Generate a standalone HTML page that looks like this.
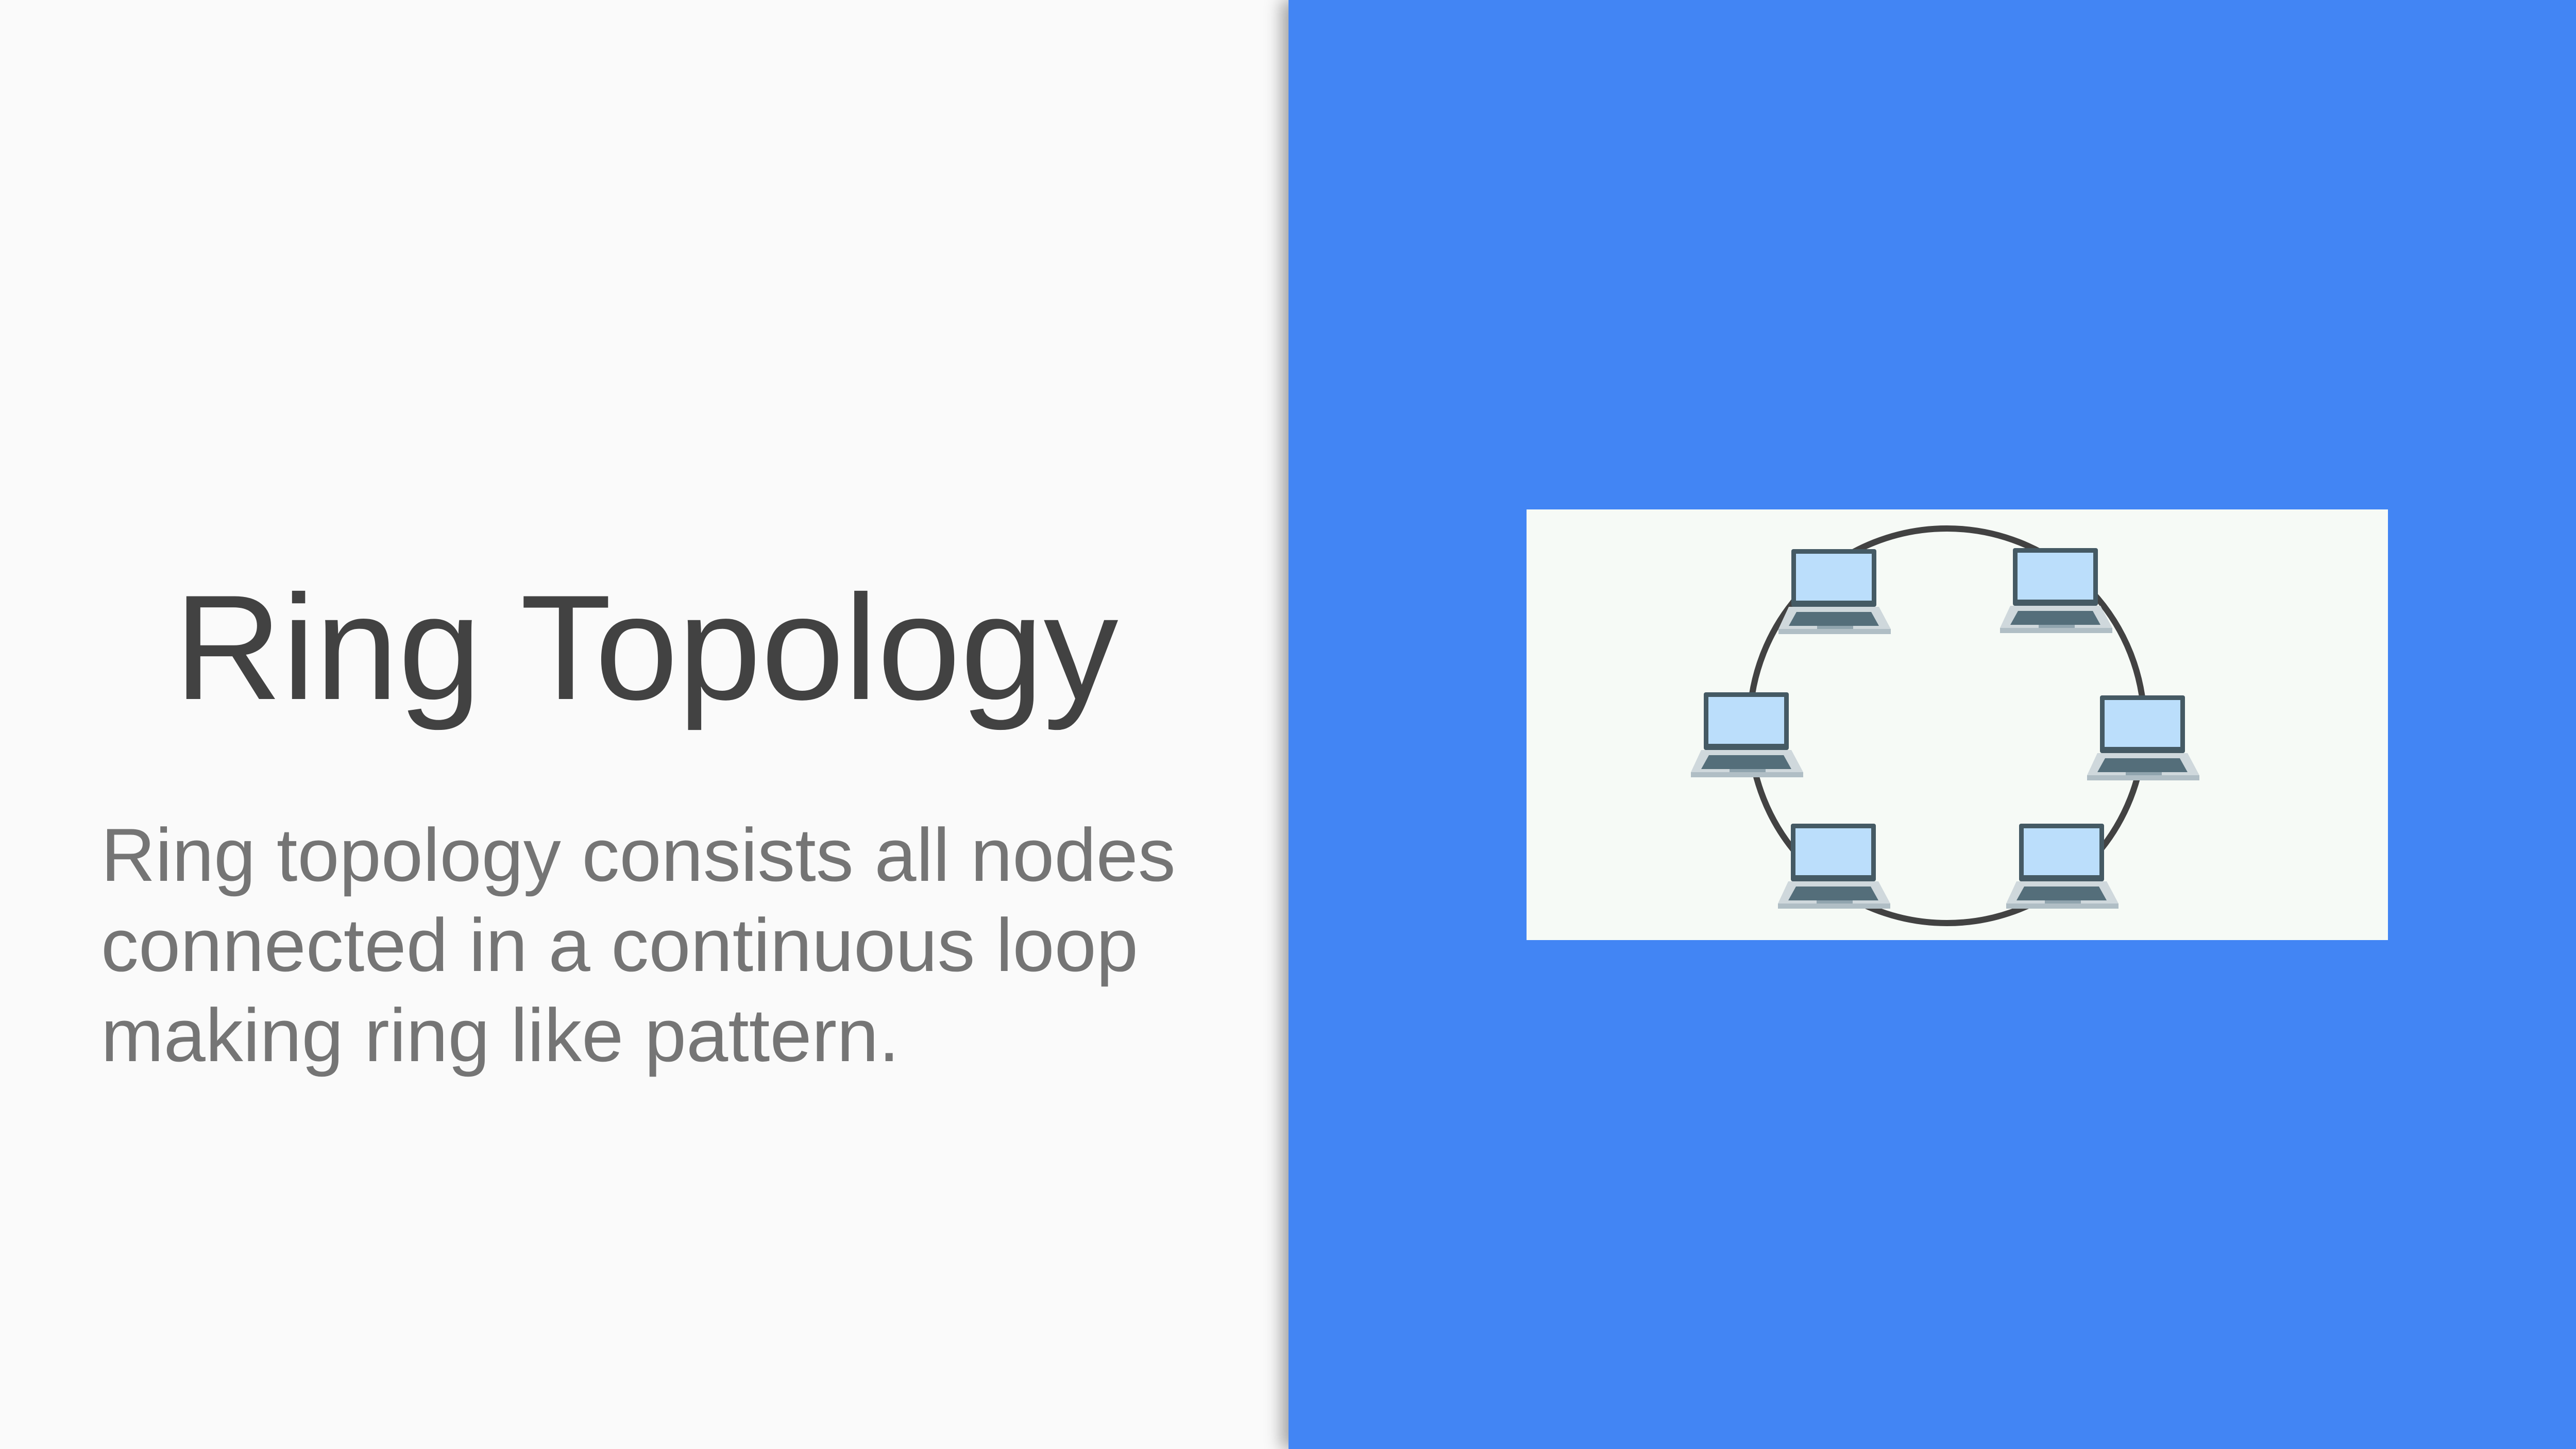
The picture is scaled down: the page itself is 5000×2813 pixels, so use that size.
<!DOCTYPE html>
<html><head><style>
html,body{margin:0;padding:0}
body{width:5000px;height:2813px;position:relative;overflow:hidden;background:#fafafa;font-family:"Liberation Sans",sans-serif}
#blue{position:absolute;left:2501px;top:0;width:2499px;height:2813px;background:#4285f4;box-shadow:-14px 0 30px rgba(0,0,0,0.35)}
#title{position:absolute;left:338px;top:1112px;font-size:290px;color:#424242;white-space:nowrap;line-height:1}
#body{position:absolute;left:196px;top:1572px;font-size:146px;color:#757575;line-height:175px;white-space:nowrap}
#box{position:absolute;left:2963px;top:989px;width:1672px;height:836px;background:#f6faf6}
</style></head><body>
<div id="title">Ring Topology</div>
<div id="body">Ring topology consists all nodes<br>connected in a continuous loop<br>making ring like pattern.</div>
<div id="blue"></div>
<div id="box"></div>
<svg style="position:absolute;left:0;top:0" width="5000" height="2813">
<defs>
<g id="lap">
<rect x="0" y="0" width="165" height="112" rx="4" fill="#455a64"/>
<rect x="9" y="9" width="147" height="91" fill="#bbdefb"/>
<polygon points="-5,112 170,112 193,155 -25,155" fill="#cfd8dc"/>
<polygon points="10,122 155,122 170,149 -5,149" fill="#546e7a"/>
<rect x="-25" y="155" width="218" height="10" fill="#b0bec5"/>
<rect x="50" y="149" width="70" height="6" fill="#90a4ae"/>
</g>
</defs>
<circle cx="3779" cy="1409" r="383" fill="none" stroke="#424242" stroke-width="12"/>
<use href="#lap" x="3477" y="1066"/>
<use href="#lap" x="3907" y="1064"/>
<use href="#lap" x="3307" y="1344"/>
<use href="#lap" x="4076" y="1350"/>
<use href="#lap" x="3476" y="1599"/>
<use href="#lap" x="3919" y="1599"/>
</svg>
</body></html>
